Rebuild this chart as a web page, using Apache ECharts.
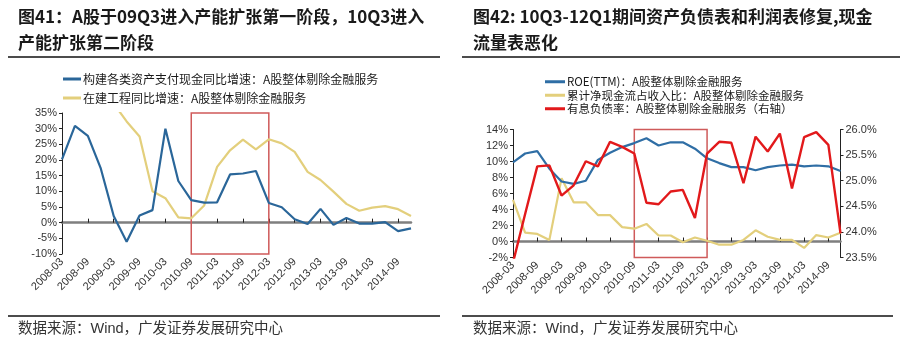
<!DOCTYPE html>
<html><head><meta charset="utf-8">
<script src="https://cdn.jsdelivr.net/npm/echarts@6/dist/echarts.min.js"></script>
<style>html,body{margin:0;padding:0;background:#fff}#c{width:903px;height:348px}</style>
</head><body><div id="c"></div>
<script>
// ---- data ----
const categories = ['2008-03','2008-06','2008-09','2008-12','2009-03','2009-06','2009-09','2009-12',
  '2010-03','2010-06','2010-09','2010-12','2011-03','2011-06','2011-09','2011-12',
  '2012-03','2012-06','2012-09','2012-12','2013-03','2013-06','2013-09','2013-12',
  '2014-03','2014-06','2014-09','2014-12'];
// Left chart (%)
const capexCashGrowth = [20.2, 30.9, 27.7, 17.3, 2.1, -6.1, 2.3, 4.0, 30.0, 13.3, 7.2, 6.4, 6.5, 15.4, 15.7, 16.5,
  6.3, 4.9, 1.1, -0.4, 4.4, -0.7, 1.5, -0.3, -0.3, 0.2, -2.7, -1.8];
const cipGrowth = [null, null, null, null, 38.0, 32.3, 27.5, 10.0, 7.8, 1.7, 1.4, 5.5, 17.8, 23.1, 26.5, 23.4,
  26.6, 25.3, 22.6, 16.2, 13.6, 9.9, 6.0, 3.8, 4.8, 5.3, 4.3, 2.1];
// Right chart (%)
const roeTTM = [9.9, 11.0, 11.3, 9.1, 7.5, 7.2, 7.6, 10.2, 11.1, 11.8, 12.3, 12.9, 12.0, 12.4, 12.4, 11.6,
  10.4, 9.8, 9.3, 9.3, 8.9, 9.3, 9.5, 9.6, 9.4, 9.5, 9.4, 8.8];
const netCashToRevenue = [5.2, 1.1, 0.95, 0.2, 7.9, 4.9, 4.9, 3.3, 3.3, 1.8, 1.6, 2.2, 0.75, 0.75, -0.1, 0.5,
  0.1, -0.4, -0.4, 0.2, 1.4, 0.6, 0.2, 0.2, -0.8, 0.8, 0.5, 1.1];
const interestDebtRatio = [23.4, 24.35, 25.28, 25.3, 24.71, 24.91, 25.38, 25.28, 25.76, 25.66, 25.53, 24.57, 24.54, 24.79, 24.82, 24.27,
  25.53, 25.76, 25.74, 24.95, 25.86, 25.57, 25.92, 24.85, 25.85, 25.95, 25.7, 23.97];
// tick labels
const leftTicks = [-10, -5, 0, 5, 10, 15, 20, 25, 30, 35];
const roeTicks = [-2, 0, 2, 4, 6, 8, 10, 12, 14];
const debtTicks = [23.5, 24.0, 24.5, 25.0, 25.5, 26.0];
const highlight = ['2010-09', '2012-03'];

// ---- styles ----
const CJK = '"Noto Sans CJK SC", "Liberation Sans", sans-serif';
const LAT = '"Liberation Sans", Arial, "Noto Sans CJK SC", sans-serif';
const BLUE = '#2a6699', BLUE2 = '#2f6ea5', YELLOW = '#e3cf7c', RED = '#e2191b', RECT = '#cf5a5a';

const chart = echarts.init(document.getElementById('c'), null, {renderer: 'canvas'});

function catAxis(grid, labels) {
  return {
    type: 'category', gridIndex: grid, data: categories, boundaryGap: false,
    axisLine: {show: labels ? false : true, onZero: !labels, lineStyle: {color: '#7f7f7f', width: 2.5}},
    axisTick: {show: !labels, interval: 1, length: 4, lineStyle: {color: '#222', width: 1}},
    axisLabel: {show: labels, interval: 1, rotate: 45, margin: 6, fontSize: 11, color: '#333', fontFamily: LAT},
    splitLine: {show: false}
  };
}
function valAxis(grid, ticks, pos, fmt) {
  return {
    type: 'value', gridIndex: grid, position: pos,
    min: ticks[0], max: ticks[ticks.length - 1], interval: ticks[1] - ticks[0],
    axisLine: {show: true, lineStyle: {color: '#222', width: 1}},
    axisTick: {show: true, length: 3, lineStyle: {color: '#222'}},
    axisLabel: {fontSize: 11, color: '#333', fontFamily: LAT, margin: 5, formatter: fmt},
    splitLine: {show: false}
  };
}
function rectArea(ticks) {
  return {
    silent: true,
    itemStyle: {color: 'rgba(0,0,0,0)', borderColor: RECT, borderWidth: 1.5},
    data: [[{xAxis: highlight[0], yAxis: ticks[ticks.length - 1]}, {xAxis: highlight[1], yAxis: ticks[0]}]]
  };
}

const option = {
  animation: false,
  backgroundColor: '#fff',
  title: [
    {text: '图41：A股于09Q3进入产能扩张第一阶段，10Q3进入\n产能扩张第二阶段', left: 18, top: 4, padding: 0,
     textStyle: {fontSize: 17, fontWeight: 'bold', lineHeight: 26, color: '#1a1a1a', fontFamily: CJK}},
    {text: '图42: 10Q3-12Q1期间资产负债表和利润表修复,现金\n流量表恶化', left: 473, top: 4, padding: 0,
     textStyle: {fontSize: 17, fontWeight: 'bold', lineHeight: 26, color: '#1a1a1a', fontFamily: CJK}}
  ],
  legend: [
    {data: ['构建各类资产支付现金同比增速：A股整体剔除金融服务', '在建工程同比增速：A股整体剔除金融服务'],
     orient: 'vertical', left: 63, top: 73, padding: 0, itemGap: 7, itemWidth: 18, itemHeight: 3, icon: 'rect',
     textStyle: {fontSize: 12, color: '#1a1a1a', fontFamily: CJK, padding: [0, 0, 0, -3]}},
    {data: ['ROE(TTM)：A股整体剔除金融服务', '累计净现金流占收入比：A股整体剔除金融服务', '有息负债率：A股整体剔除金融服务（右轴）'],
     orient: 'vertical', left: 545, top: 76, padding: 0, itemGap: 2, itemWidth: 20, itemHeight: 3, icon: 'rect',
     textStyle: {fontSize: 11.5, color: '#1a1a1a', fontFamily: CJK, padding: [0, 0, 0, -3]}}
  ],
  grid: [
    {left: 62, top: 113, width: 349, height: 141, containLabel: false},
    {left: 513, top: 129.5, width: 327.5, height: 128, containLabel: false}
  ],
  xAxis: [catAxis(0, true), catAxis(0, false), catAxis(1, true), catAxis(1, false)],
  yAxis: [
    valAxis(0, leftTicks, 'left', '{value}%'),
    valAxis(1, roeTicks, 'left', '{value}%'),
    valAxis(1, debtTicks, 'right', v => v.toFixed(1) + '%')
  ],
  series: [
    {name: '构建各类资产支付现金同比增速：A股整体剔除金融服务', type: 'line', xAxisIndex: 0, yAxisIndex: 0,
     data: capexCashGrowth, showSymbol: false, symbol: 'none', lineStyle: {color: BLUE, width: 2.2}, itemStyle: {color: BLUE}, z: 3},
    {name: '在建工程同比增速：A股整体剔除金融服务', type: 'line', xAxisIndex: 0, yAxisIndex: 0,
     data: cipGrowth, showSymbol: false, symbol: 'none', lineStyle: {color: YELLOW, width: 2.2}, itemStyle: {color: YELLOW}, z: 2,
     markArea: rectArea(leftTicks)},
    {name: 'ROE(TTM)：A股整体剔除金融服务', type: 'line', xAxisIndex: 2, yAxisIndex: 1,
     data: roeTTM, showSymbol: false, symbol: 'none', lineStyle: {color: BLUE2, width: 2.2}, itemStyle: {color: BLUE2}, z: 3,
     markArea: rectArea(roeTicks)},
    {name: '累计净现金流占收入比：A股整体剔除金融服务', type: 'line', xAxisIndex: 2, yAxisIndex: 1,
     data: netCashToRevenue, showSymbol: false, symbol: 'none', lineStyle: {color: YELLOW, width: 2.2}, itemStyle: {color: YELLOW}, z: 2},
    {name: '有息负债率：A股整体剔除金融服务（右轴）', type: 'line', xAxisIndex: 2, yAxisIndex: 2,
     data: interestDebtRatio, showSymbol: false, symbol: 'none', lineStyle: {color: RED, width: 2.4}, itemStyle: {color: RED}, z: 4}
  ],
  graphic: [
    {type: 'line', shape: {x1: 8, y1: 57, x2: 440, y2: 57}, style: {stroke: '#111', lineWidth: 1.5}},
    {type: 'line', shape: {x1: 462, y1: 57, x2: 900, y2: 57}, style: {stroke: '#111', lineWidth: 1.5}},
    {type: 'line', shape: {x1: 8, y1: 316, x2: 440, y2: 316}, style: {stroke: '#111', lineWidth: 1.5}},
    {type: 'line', shape: {x1: 462, y1: 316, x2: 893, y2: 316}, style: {stroke: '#111', lineWidth: 1.5}},
    {type: 'text', left: 18, top: 322, style: {text: '数据来源：Wind，广发证券发展研究中心', font: '14.5px ' + LAT, fill: '#333'}},
    {type: 'text', left: 473, top: 322, style: {text: '数据来源：Wind，广发证券发展研究中心', font: '14.5px ' + LAT, fill: '#333'}}
  ]
};
chart.setOption(option);
</script>
</body></html>
